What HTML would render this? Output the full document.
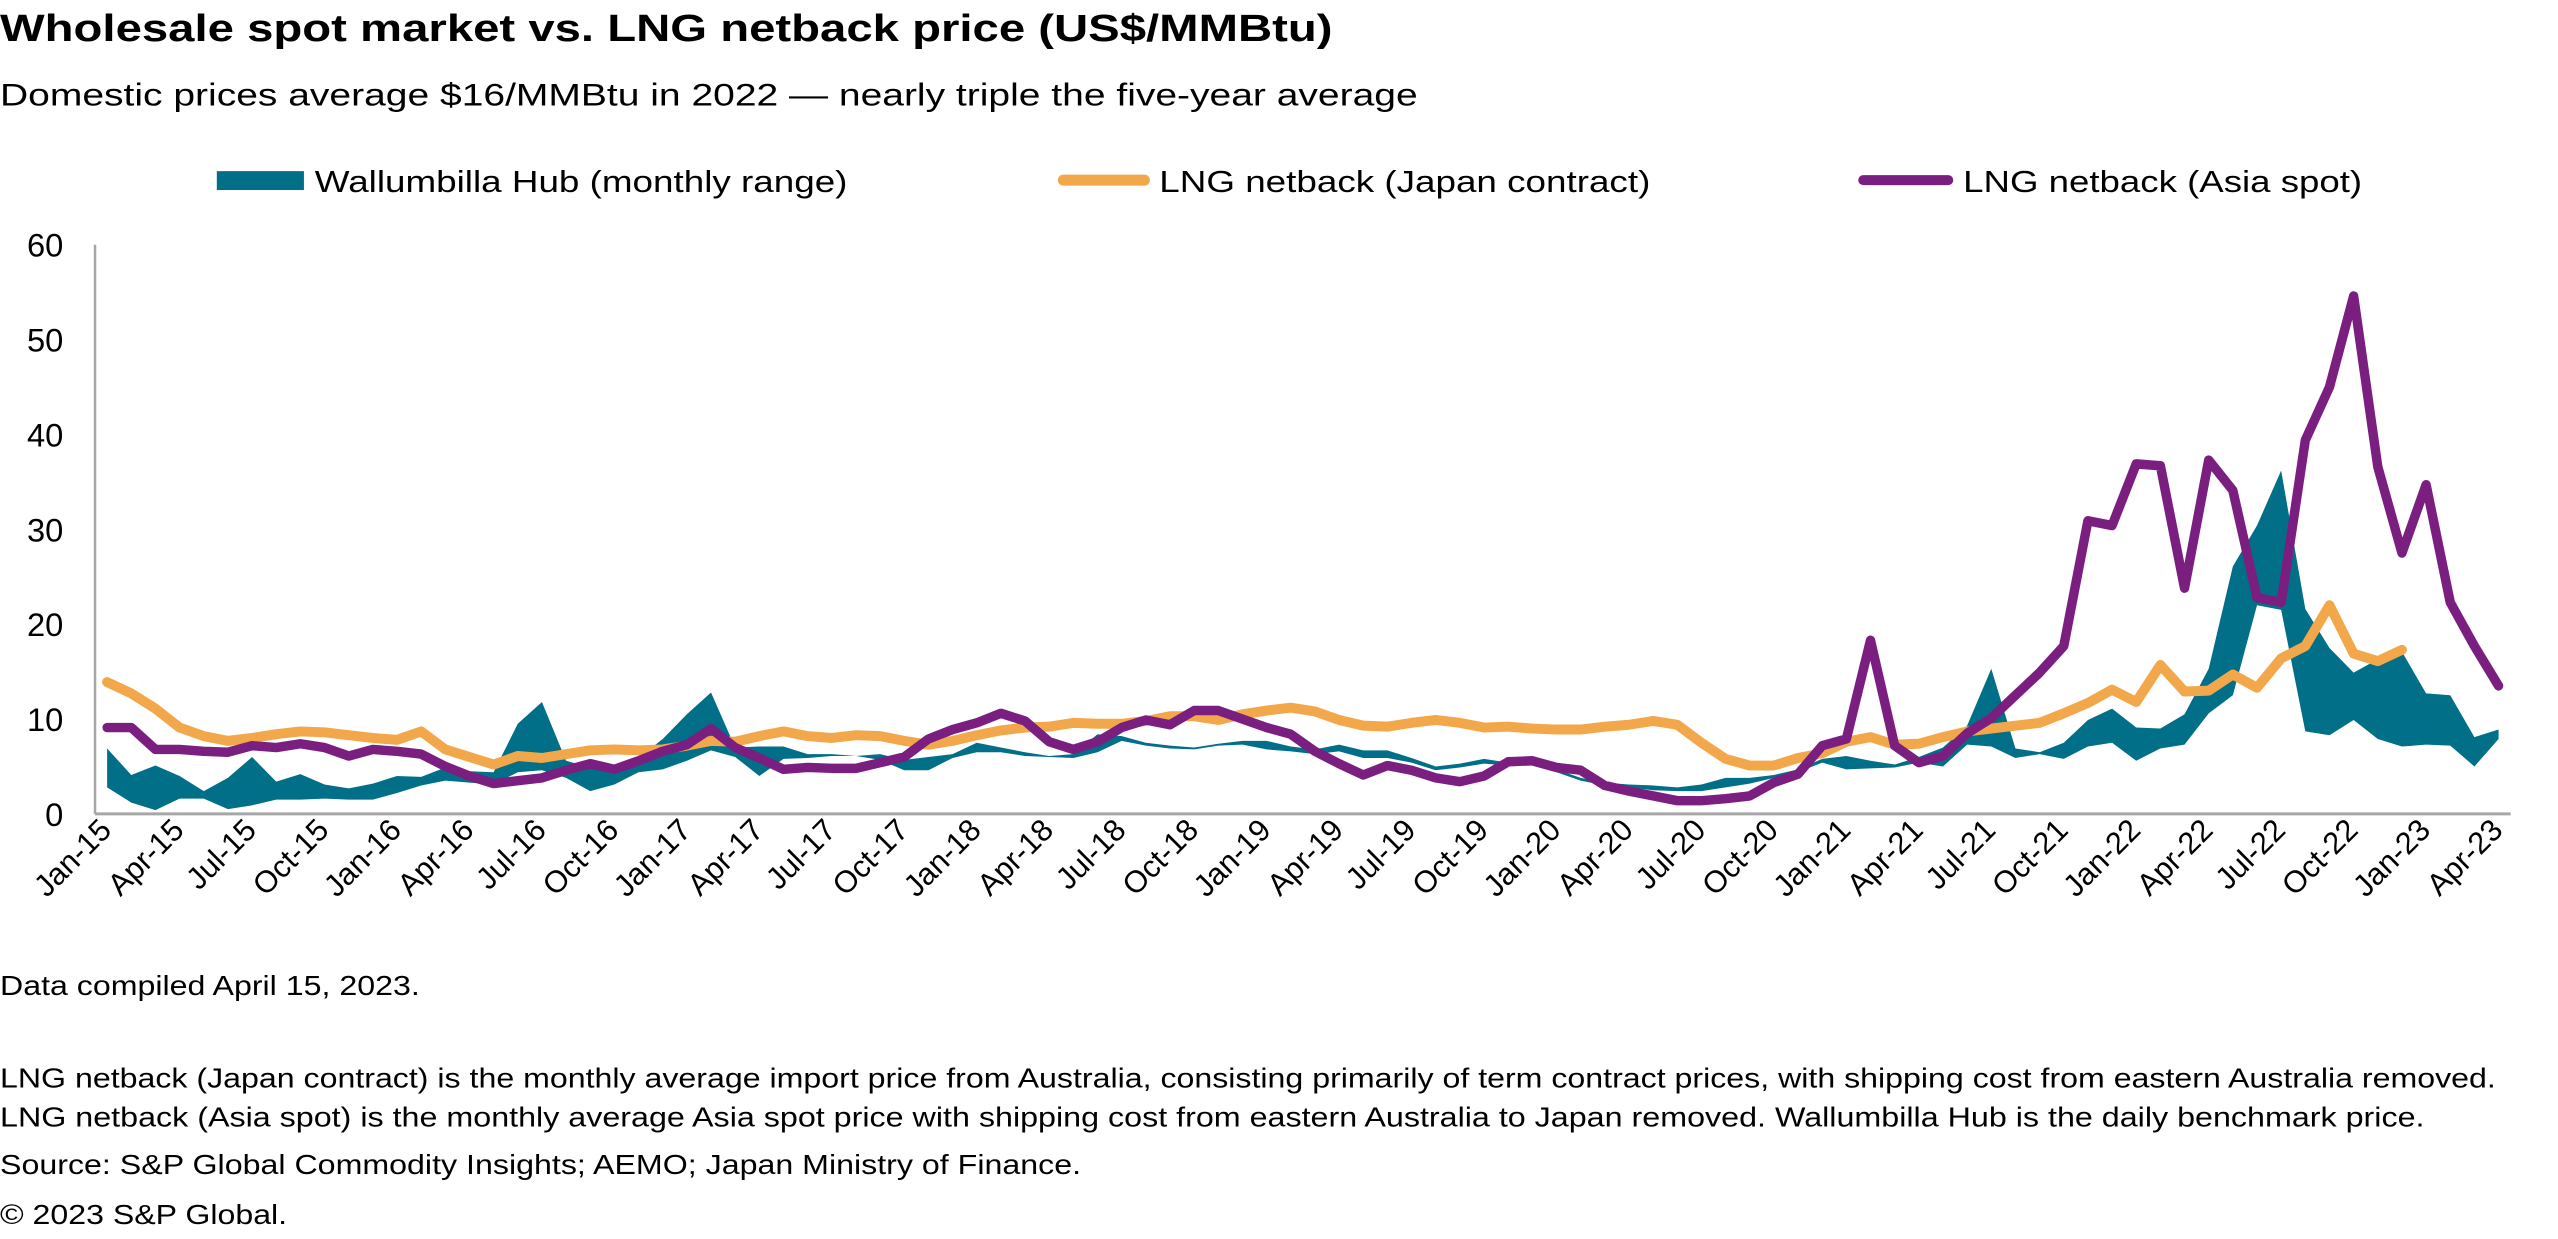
<!DOCTYPE html>
<html><head><meta charset="utf-8"><style>
html,body{margin:0;padding:0;background:#fff;}
svg{display:block;font-family:"Liberation Sans",Arial,sans-serif;}
</style></head><body>
<svg id="chart" width="2558" height="1239" viewBox="0 0 2558 1239" xmlns="http://www.w3.org/2000/svg">
<g transform="scale(0.99,0.995)">
<text x="0" y="41" font-size="38" font-weight="bold" fill="#000" textLength="1346" lengthAdjust="spacingAndGlyphs">Wholesale spot market vs. LNG netback price (US$/MMBtu)</text>
<text x="0" y="106" font-size="32" fill="#000" textLength="1432" lengthAdjust="spacingAndGlyphs">Domestic prices average $16/MMBtu in 2022 — nearly triple the five-year average</text>
<g>
<g>
<rect x="219" y="172" width="88" height="19" fill="#006f87"/>
<text x="318" y="193" font-size="31" textLength="538" lengthAdjust="spacingAndGlyphs">Wallumbilla Hub (monthly range)</text></g>
<g>
<line x1="1074" y1="181" x2="1156" y2="181" stroke="#f2a84a" stroke-width="11" stroke-linecap="round"/>
<text x="1171" y="193" font-size="31" textLength="496" lengthAdjust="spacingAndGlyphs">LNG netback (Japan contract)</text></g>
<g>
<line x1="1882" y1="181" x2="1968" y2="181" stroke="#7a1f80" stroke-width="10" stroke-linecap="round"/>
<text x="1983" y="193" font-size="31" textLength="403" lengthAdjust="spacingAndGlyphs">LNG netback (Asia spot)</text></g>
</g>
<g id="plot"></g>
<text x="0" y="1000" font-size="28" textLength="424" lengthAdjust="spacingAndGlyphs">Data compiled April 15, 2023.</text>
<text x="0" y="1093" font-size="28" textLength="2521" lengthAdjust="spacingAndGlyphs">LNG netback (Japan contract) is the monthly average  import price from Australia, consisting primarily of term contract prices, with shipping cost from eastern Australia removed.</text>
<text x="0" y="1132" font-size="28" textLength="2449" lengthAdjust="spacingAndGlyphs">LNG netback (Asia spot) is the monthly average  Asia spot price with shipping cost from eastern Australia to Japan removed. Wallumbilla Hub is the daily benchmark price.</text>
<text x="0" y="1180" font-size="28" textLength="1092" lengthAdjust="spacingAndGlyphs">Source: S&amp;P Global Commodity Insights; AEMO; Japan Ministry of Finance.</text>
<text x="0" y="1230" font-size="28" textLength="290" lengthAdjust="spacingAndGlyphs">© 2023 S&amp;P Global.</text>
</g>
</svg>
<script>
const monthNames = ["Jan","Feb","Mar","Apr","May","Jun","Jul","Aug","Sep","Oct","Nov","Dec"];
const yTicks = [0,10,20,30,40,50,60];
const japanContract = [13.9,12.7,11.1,9.1,8.2,7.7,8.0,8.4,8.7,8.6,8.3,8.0,7.8,8.7,6.8,6.0,5.2,6.1,5.9,6.3,6.7,6.8,6.7,6.8,7.2,7.7,7.6,
8.2,8.7,8.2,8.0,8.3,8.2,7.7,7.3,7.7,8.3,8.8,9.1,9.2,9.6,9.5,9.5,9.8,10.3,10.3,9.9,10.5,10.9,11.2,10.8,9.9,
9.3,9.2,9.6,9.9,9.6,9.1,9.2,9.0,8.9,8.9,9.2,9.4,9.8,9.4,7.5,5.8,5.1,5.1,5.9,6.4,7.6,8.1,7.3,
7.4,8.1,8.7,9.0,9.3,9.6,10.6,11.7,13.1,11.8,15.7,12.9,13.0,14.7,13.3,16.4,17.7,22.0,16.9,16.1,17.3];
const asiaSpot = [9.1,9.1,6.8,6.8,6.6,6.5,7.2,7.0,7.4,7.0,6.1,6.8,6.6,6.3,5.0,4.0,3.2,3.5,3.8,4.6,5.3,4.7,5.6,6.6,7.3,9.0,7.0,
5.9,4.7,4.9,4.8,4.8,5.4,6.0,7.9,8.9,9.6,10.6,9.8,7.6,6.8,7.6,9.1,9.9,9.4,10.9,10.9,10.0,9.1,8.4,6.6,5.3,
4.1,5.1,4.6,3.8,3.4,4.0,5.5,5.6,4.9,4.6,3.0,2.4,1.9,1.4,1.4,1.6,1.9,3.3,4.2,7.2,7.9,18.3,7.2,
5.4,6.1,8.5,10.1,12.5,14.9,17.7,30.9,30.4,36.9,36.7,23.8,37.3,34.1,22.8,22.3,39.4,45.0,54.6,36.6,27.5,34.7,22.3,17.7,13.5];
const hubHigh = [6.9,4.1,5.1,4.0,2.4,3.8,6.0,3.4,4.2,3.1,2.7,3.2,4.0,3.9,4.9,4.5,4.4,9.5,11.8,5.6,4.9,4.9,5.9,7.9,10.5,12.8,7.0,
7.1,7.1,6.3,6.3,6.1,6.3,5.7,6.0,6.3,7.5,7.0,6.5,6.1,6.3,8.4,8.2,7.5,7.2,7.0,7.4,7.7,7.7,7.1,6.8,7.3,
6.7,6.7,5.9,5.0,5.3,5.8,5.4,5.4,4.7,3.8,3.3,3.1,3.0,2.8,3.1,3.8,3.8,4.1,4.7,5.8,6.1,5.6,5.2,
6.0,7.0,9.3,15.3,6.9,6.5,7.5,9.9,11.1,9.1,9.0,10.5,15.3,26.1,30.4,36.2,21.6,17.5,14.9,16.3,17.1,12.7,12.5,8.1,8.9];
const hubLow = [2.8,1.2,0.4,1.6,1.6,0.5,0.9,1.5,1.5,1.6,1.5,1.5,2.2,3.0,3.5,3.3,3.1,4.4,4.6,3.8,2.4,3.1,4.4,4.7,5.6,6.7,6.0,
4.0,5.8,5.9,6.1,6.1,5.7,4.6,4.6,5.9,6.5,6.5,6.1,6.0,5.9,6.5,7.7,7.2,6.9,6.8,7.2,7.3,6.8,6.6,6.3,6.6,
5.9,5.9,5.4,4.6,4.9,5.3,5.1,5.1,4.4,3.5,3.0,2.8,2.5,2.4,2.4,2.8,3.2,3.8,4.4,5.4,4.7,4.8,4.9,
5.4,5.0,7.3,7.1,5.9,6.3,5.8,7.1,7.5,5.6,6.9,7.3,10.6,12.5,22.0,21.5,8.7,8.3,9.9,7.9,7.1,7.3,7.2,5.0,7.9];
const categories = [];
for (let i = 0; i < 100; i++) { categories.push(monthNames[i % 12] + "-" + (15 + Math.floor(i / 12))); }

const NS = "http://www.w3.org/2000/svg";
const plot = document.getElementById("plot");
const left = 96, right = 2536, y0 = 818, yTop = 246;
const band = (right - left) / categories.length;
const xs = i => left + (i + 0.5) * band;
const ys = v => y0 - v / 60 * (y0 - yTop);
function mk(tag, attrs) { const e = document.createElementNS(NS, tag); for (const k in attrs) e.setAttribute(k, attrs[k]); plot.appendChild(e); return e; }

yTicks.forEach(t => {
  const e = mk("text", {x: 64, y: ys(t) + 12, "font-size": 33, "text-anchor": "end", fill: "#000"});
  e.textContent = t;
  
  
});
let pts = [];
hubHigh.forEach((v, i) => pts.push(xs(i).toFixed(1) + "," + ys(v).toFixed(1)));
for (let i = hubLow.length - 1; i >= 0; i--) pts.push(xs(i).toFixed(1) + "," + ys(hubLow[i]).toFixed(1));
const area = mk("polygon", {points: pts.join(" "), fill: "#006f87"});


const oPts = japanContract.map((v, i) => xs(i).toFixed(1) + "," + ys(v).toFixed(1)).join(" ");
const oLine = mk("polyline", {points: oPts, fill: "none", stroke: "#f2a84a", "stroke-width": 10, "stroke-linejoin": "round", "stroke-linecap": "round"});


const pPts = asiaSpot.map((v, i) => xs(i).toFixed(1) + "," + ys(v).toFixed(1)).join(" ");
const pLine = mk("polyline", {points: pPts, fill: "none", stroke: "#7a1f80", "stroke-width": 9.5, "stroke-linejoin": "round", "stroke-linecap": "round"});


const ya = mk("line", {x1: left, y1: yTop, x2: left, y2: y0, stroke: "#a6a6a6", "stroke-width": 2.5});


const xa = mk("line", {x1: left, y1: y0, x2: right, y2: y0, stroke: "#a6a6a6", "stroke-width": 3});


for (let i = 0; i < categories.length; i += 3) {
  const x = xs(i) + 6, y = 836;
  const e = mk("text", {x: x, y: y, "font-size": 31, "text-anchor": "end", fill: "#000", transform: "rotate(-45 " + x + " " + y + ")"});
  e.textContent = categories[i];
  
  
}
</script>
</body></html>
